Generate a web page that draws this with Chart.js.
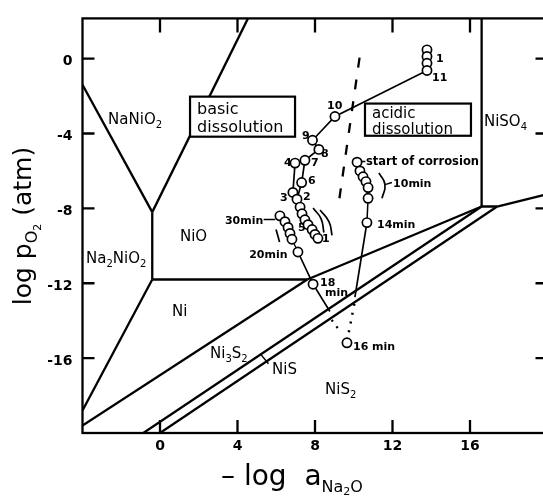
<!DOCTYPE html>
<html><head><meta charset="utf-8">
<style>
html,body{margin:0;padding:0;overflow:hidden;background:#fff;width:543px;height:500px}
canvas{display:block}
</style>
<script src="https://cdn.jsdelivr.net/npm/chart.js@4"></script>
</head><body>
<canvas id="c" width="556" height="500"></canvas>
<script>
// ---- axes ----
const X_TICKS = [0, 4, 8, 12, 16];
const Y_TICKS = [0, -4, -8, -12, -16];
const X_MIN = -4, X_MAX = 20, Y_MIN = -20, Y_MAX = 2.15;

// ---- phase boundaries (x = -log aNa2O, y = log pO2) ----
const naNiO2Left   = [[-4, -1.4], [-0.4, -8.2]];
const naNiO2Right  = [[-0.4, -8.2], [4.54, 2.15]];
const naNiO2Base   = [[-0.4, -8.2], [-0.4, -11.8]];
const niONi        = [[-0.4, -11.8], [7.6, -11.8]];
const na2NiO2Ni    = [[-0.4, -11.8], [-4, -18.8]];
const niNi3S2      = [[-4, -19.6], [7.6, -11.8]];
const niONi3S2     = [[7.6, -11.8], [16.6, -7.9]];
const ni3S2NiS     = [[-0.86, -20], [16.6, -7.9]];
const niSNiS2      = [[0, -20], [17.4, -7.9]];
const vertexLink   = [[16.6, -7.9], [17.4, -7.9]];
const niSO4Left    = [[16.6, 2.15], [16.6, -7.9]];
const niSO4Base    = [[17.4, -7.9], [20, -7.24]];
const dashedBound  = [[10.3, 0.05], [9.2, -7.9]];

// ---- measured points ----
const topStack    = [[13.78, 0.47], [13.78, 0.12], [13.78, -0.25], [13.78, -0.63]];
const basicPts    = [[9.03, -3.09], [7.87, -4.36], [8.2, -4.85], [7.48, -5.43], [6.97, -5.58], [7.31, -6.62]];
const basicChain  = [[6.86, -7.15], [7.07, -7.51], [7.23, -7.93], [7.33, -8.29], [7.48, -8.61], [7.64, -8.87], [7.85, -9.13], [8.0, -9.39], [8.15, -9.6]];
const branch30    = [[6.19, -8.40], [6.45, -8.71], [6.61, -9.02], [6.71, -9.34], [6.81, -9.65], [7.12, -10.33]];
const acidicChain = [[10.17, -5.53], [10.32, -6.0], [10.48, -6.31], [10.63, -6.57], [10.74, -6.89], [10.74, -7.46], [10.68, -8.76]];
const latePts     = [[7.9, -12.05], [9.65, -15.18]];

// ---- paths between points ----
const pathBasic   = [[13.78, -0.63], [9.03, -3.09], [7.87, -4.36], [8.2, -4.85], [7.48, -5.43], [7.31, -6.62], [7.07, -7.51]];
const path4to3    = [[6.97, -5.58], [6.86, -7.15]];
const path20      = [[7.12, -10.33], [7.9, -12.05], [8.77, -13.51]];
const dotted18    = [[8.86, -13.96], [9.25, -14.5]];
const path14      = [[10.68, -8.76], [10.06, -12.74]];
const dotted14    = [[10.03, -13.1], [9.72, -14.75]];
const arc10       = [[11.3, -6.1], [11.61, -6.73], [11.46, -7.46]];
const lead10      = [[11.61, -6.73], [11.97, -6.62]];
const arcL1       = [[7.9, -7.98], [8.31, -8.55], [8.46, -9.29]];
const arcL2       = [[8.26, -8.09], [8.72, -8.71], [8.88, -9.44]];
const stroke20    = [[5.99, -9.13], [6.17, -9.8]];
const lead30      = [[5.35, -8.6], [5.95, -8.6]];
const leadNiS     = [[5.2, -15.8], [5.6, -16.3]];
const leadStart   = [[10.4, -5.5], [10.6, -5.5]];

// ---- labels ----
const regionLabels = [
  {t: 'NaNiO_2', x: -2.68, y: -3.18}, {t: 'NiO', x: 1.03, y: -9.44},
  {t: 'Na_2NiO_2', x: -3.82, y: -10.64}, {t: 'Ni', x: 0.62, y: -13.46},
  {t: 'Ni_3S_2', x: 2.58, y: -15.7}, {t: 'NiS', x: 5.78, y: -16.54},
  {t: 'NiS_2', x: 8.52, y: -17.63}, {t: 'NiSO_4', x: 16.72, y: -3.29}
];
const boxLabels = [
  {lines: ['basic', 'dissolution'], x1: 1.55, x2: 6.97, y1: -2.03, y2: -4.17},
  {lines: ['acidic', 'dissolution'], x1: 10.58, x2: 16.05, y1: -2.40, y2: -4.12}
];
const smallLabels = [
  {t: 'start of corrosion', x: 10.63, y: -5.48, s: 11.5}, {t: '10min', x: 12.03, y: -6.62},
  {t: '14min', x: 11.2, y: -8.82}, {t: '16 min', x: 9.96, y: -15.34},
  {t: '18', x: 8.26, y: -11.95}, {t: 'min', x: 8.52, y: -12.47},
  {t: '20min', x: 4.6, y: -10.45}, {t: '30min', x: 3.35, y: -8.6},
  {t: '1', x: 14.25, y: 0.05}, {t: '11', x: 14.04, y: -0.99}, {t: '10', x: 8.62, y: -2.5},
  {t: '9', x: 7.33, y: -4.07}, {t: '8', x: 8.31, y: -5.06}, {t: '7', x: 7.79, y: -5.53},
  {t: '4', x: 6.4, y: -5.53}, {t: '6', x: 7.64, y: -6.47}, {t: '3', x: 6.19, y: -7.41},
  {t: '2', x: 7.38, y: -7.36}, {t: '5', x: 7.12, y: -9.02}, {t: '1', x: 8.36, y: -9.6}
];

const FONT = '"DejaVu Sans", sans-serif';
const toXY = a => a.map(p => ({x: p[0], y: p[1]}));
function lineDs(pts, extra) {
  return Object.assign({data: toXY(pts), showLine: true, borderColor: '#000', borderWidth: 2.3,
    pointRadius: 0, fill: false, tension: 0, order: 2}, extra || {});
}
function circleDs(pts) {
  return {data: toXY(pts), showLine: false, pointRadius: 4.6, pointBorderWidth: 1.7,
    pointBackgroundColor: '#fff', pointBorderColor: '#000', order: 0};
}

function drawRich(ctx, text, x, y, size, weight) {
  const segs = [];
  for (let i = 0; i < text.length; i++) {
    if (text[i] === '_') { segs.push({t: text[++i], sub: true}); }
    else if (segs.length && !segs[segs.length - 1].sub) segs[segs.length - 1].t += text[i];
    else segs.push({t: text[i], sub: false});
  }
  ctx.textBaseline = 'alphabetic';
  ctx.textAlign = 'left';
  let cx = x;
  const base = y + size * 0.36;
  segs.forEach(s => {
    const sz = s.sub ? Math.round(size * 0.68) : size;
    ctx.font = weight + ' ' + sz + 'px ' + FONT;
    ctx.fillText(s.t, cx, s.sub ? base + size * 0.28 : base);
    cx += ctx.measureText(s.t).width;
  });
}

const decor = {
  id: 'decor',
  beforeDatasetsDraw(chart) {
    const ctx = chart.ctx, xs = chart.scales.x, ys = chart.scales.y;
    ctx.save();
    ctx.fillStyle = '#000';
    regionLabels.forEach(l => drawRich(ctx, l.t, xs.getPixelForValue(l.x), ys.getPixelForValue(l.y), 15, 'normal'));
    smallLabels.forEach(l => drawRich(ctx, l.t, xs.getPixelForValue(l.x), ys.getPixelForValue(l.y), l.s || 11, 'bold'));
    ctx.restore();
  },
  afterDatasetsDraw(chart) {
    const ctx = chart.ctx, xs = chart.scales.x, ys = chart.scales.y, a = chart.chartArea;
    ctx.save();
    // boxes
    const boxFont = [16, 15], boxBase = [[17, 35], [14, 30]];
    boxLabels.forEach((b, i) => {
      const x1 = xs.getPixelForValue(b.x1), x2 = xs.getPixelForValue(b.x2);
      const y1 = ys.getPixelForValue(b.y1), y2 = ys.getPixelForValue(b.y2);
      ctx.fillStyle = '#fff';
      ctx.fillRect(x1, y1, x2 - x1, y2 - y1);
      ctx.strokeStyle = '#000'; ctx.lineWidth = 2.2;
      ctx.strokeRect(x1, y1, x2 - x1, y2 - y1);
      ctx.fillStyle = '#000';
      ctx.font = boxFont[i] + 'px ' + FONT;
      ctx.textAlign = 'left'; ctx.textBaseline = 'alphabetic';
      ctx.fillText(b.lines[0], x1 + 7, y1 + boxBase[i][0]);
      ctx.fillText(b.lines[1], x1 + 7, y1 + boxBase[i][1]);
    });
    // frame
    ctx.strokeStyle = '#000'; ctx.lineWidth = 2.3;
    ctx.strokeRect(a.left, a.top, a.right - a.left, a.bottom - a.top);
    // inward ticks
    ctx.beginPath();
    X_TICKS.forEach(v => {
      const px = xs.getPixelForValue(v);
      ctx.moveTo(px, a.bottom); ctx.lineTo(px, a.bottom - 13);
      ctx.moveTo(px, a.top); ctx.lineTo(px, a.top + 14);
    });
    Y_TICKS.forEach(v => {
      const py = ys.getPixelForValue(v);
      ctx.moveTo(a.left, py); ctx.lineTo(a.left + 12, py);
      ctx.moveTo(a.right, py); ctx.lineTo(a.right - 12, py);
    });
    ctx.stroke();
    // axis titles
    ctx.fillStyle = '#000';
    ctx.textBaseline = 'alphabetic'; ctx.textAlign = 'left';
    // y title
    ctx.save();
    ctx.translate(31, 226);
    ctx.rotate(-Math.PI / 2);
    const ySegs = [{t: 'log p', s: 25, d: 0}, {t: 'O', s: 16, d: 6}, {t: '2', s: 11, d: 10}, {t: ' (atm)', s: 25, d: 0}];
    let w = 0;
    ySegs.forEach(s => { ctx.font = s.s + 'px ' + FONT; w += ctx.measureText(s.t).width; });
    let cx = -w / 2;
    ySegs.forEach(s => { ctx.font = s.s + 'px ' + FONT; ctx.fillText(s.t, cx, s.d); cx += ctx.measureText(s.t).width; });
    ctx.restore();
    // x title
    const xSegs = [{t: '\u2013 log  a', s: 28, d: 0}, {t: 'Na', s: 16, d: 7}, {t: '2', s: 11, d: 10}, {t: 'O', s: 16, d: 7}];
    cx = 221;
    xSegs.forEach(s => { ctx.font = s.s + 'px ' + FONT; ctx.fillText(s.t, cx, 485 + s.d); cx += ctx.measureText(s.t).width; });
    ctx.restore();
  }
};

const datasets = [
  circleDs(topStack), circleDs(basicPts), circleDs(basicChain), circleDs(branch30),
  circleDs(acidicChain), circleDs(latePts),
  lineDs(naNiO2Left), lineDs(naNiO2Right), lineDs(naNiO2Base), lineDs(niONi), lineDs(na2NiO2Ni),
  lineDs(niNi3S2), lineDs(niONi3S2), lineDs(ni3S2NiS), lineDs(niSNiS2), lineDs(vertexLink),
  lineDs(niSO4Left), lineDs(niSO4Base),
  lineDs(dashedBound, {borderDash: [10, 12]}),
  lineDs(pathBasic, {borderWidth: 1.7}), lineDs(path4to3, {borderWidth: 1.7}),
  lineDs(basicChain, {borderWidth: 1.3}), lineDs(branch30, {borderWidth: 1.3}),
  lineDs(acidicChain, {borderWidth: 1.5}),
  lineDs(path20, {borderWidth: 1.7}), lineDs(path14, {borderWidth: 1.7}),
  lineDs(dotted18, {borderDash: [2, 6], borderWidth: 2.3}),
  lineDs(dotted14, {borderDash: [2, 7], borderWidth: 2.5}),
  lineDs(arc10, {tension: 0.5, borderWidth: 1.7}), lineDs(lead10, {borderWidth: 1.5}),
  lineDs(arcL1, {tension: 0.5, borderWidth: 1.7}), lineDs(arcL2, {tension: 0.5, borderWidth: 1.7}),
  lineDs(stroke20, {borderWidth: 1.7}), lineDs(lead30, {borderWidth: 1.5}),
  lineDs(leadNiS, {borderWidth: 1.5}), lineDs(leadStart, {borderWidth: 1.5})
];

new Chart(document.getElementById('c'), {
  type: 'scatter',
  data: {datasets},
  options: {
    responsive: false, animation: false, devicePixelRatio: 1, events: [],
    layout: {padding: {left: 0, right: 8.5, top: 7.5, bottom: 0}},
    plugins: {legend: {display: false}, tooltip: {enabled: false}},
    scales: {
      x: {
        type: 'linear', min: X_MIN, max: X_MAX,
        afterBuildTicks: s => { s.ticks = X_TICKS.map(v => ({value: v})); },
        afterFit: s => { s.height = 67; },
        grid: {display: false, drawTicks: false}, border: {display: false},
        ticks: {color: '#000', padding: 5, maxRotation: 0, autoSkip: false,
          font: {family: FONT, size: 14, weight: 'bold'}}
      },
      y: {
        type: 'linear', min: Y_MIN, max: Y_MAX,
        afterBuildTicks: s => { s.ticks = Y_TICKS.map(v => ({value: v})); },
        afterFit: s => { s.width = 82.5; },
        grid: {display: false, drawTicks: false}, border: {display: false},
        ticks: {color: '#000', padding: 10, autoSkip: false, labelOffset: 3,
          font: {family: FONT, size: 14, weight: 'bold'}}
      }
    }
  },
  plugins: [decor]
});
</script>
</body></html>
